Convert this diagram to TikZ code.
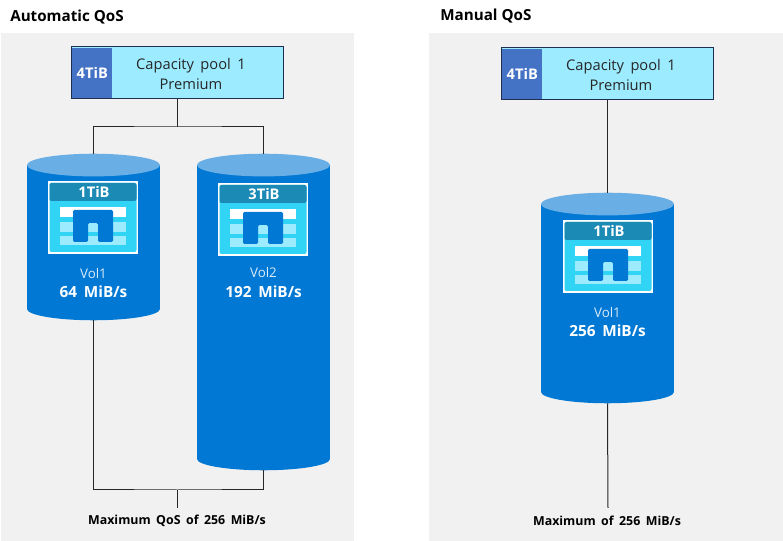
\documentclass[tikz,border=0pt]{standalone}
\usepackage{fontspec}
\setmainfont{Open Sans}
\newfontfamily\widefont[WordSpace=1.7]{Open Sans}
\definecolor{panelgray}{HTML}{F1F1F1}
\definecolor{poolcyan}{HTML}{9CEBFF}
\definecolor{pooltag}{HTML}{4472C4}
\definecolor{poolline}{HTML}{1F2F52}
\definecolor{volblue}{HTML}{0078D4}
\definecolor{voltop}{HTML}{69AEE5}
\definecolor{iconhead}{HTML}{1B8AB5}
\definecolor{iconbody}{HTML}{32D4F5}
\definecolor{iconrow}{HTML}{9CEBFF}
\tikzset{
    title/.style={font=\bfseries\fontsize{11.4}{13}\selectfont},
    poolbox/.style={draw=poolline, line width=0.75pt, fill=poolcyan, minimum width=159pt, minimum height=39pt, inner sep=0pt},
    pooltext/.style={font=\widefont\fontsize{11}{15}\selectfont, align=center, text=black!85},
    sizetag/.style={fill=pooltag, text=white, font=\bfseries\fontsize{11}{13}\selectfont, minimum width=30pt, minimum height=38pt, inner sep=0pt},
    volume/.style={minimum width=99.75pt, inner sep=0pt},
    volname/.style={text=white!85!volblue, font=\fontsize{10}{12}\selectfont},
    volrate/.style={text=white, font=\widefont\bfseries\fontsize{11.5}{13}\selectfont},
    limit/.style={font=\widefont\bfseries\fontsize{9.3}{11}\selectfont},
    link/.style={draw, line width=0.75pt, black!85}
}
\newcommand{\volshape}[1]{
    \fill[volblue] ([yshift=-8.5pt]#1.north west) rectangle ([yshift=8.5pt]#1.south east);
    \fill[volblue] ([yshift=8.5pt]#1.south) ellipse [x radius=49.875pt, y radius=8.5pt];
    \fill[voltop] ([yshift=-8.5pt]#1.north) ellipse [x radius=49.875pt, y radius=8.5pt];
}
\newcommand{\volicon}[4]{
    \begin{scope}[shift={(#2,#3)}]
        \fill[white] (0,0) rectangle (90,73);
        \fill[iconbody, rounded corners=1.5pt] (1.5,2) rectangle (88.5,71);
        \fill[iconhead, rounded corners=1.5pt] (1.5,2) rectangle (88.5,20);
        \fill[white] (12,26) rectangle (78,36);
        \fill[iconrow] (12,41) rectangle (78,51);
        \fill[iconrow] (12,55) rectangle (78,64);
        \fill[volblue, rounded corners=1pt] (25,29) -- (65,29) -- (65,61) -- (50,61) -- (50,42) -- (40,42) -- (40,61) -- (25,61) -- cycle;
        \node[text=white, font=\bfseries\fontsize{11}{13}\selectfont, inner sep=0pt] (#1) at (46,11) {#4};
    \end{scope}
}
\begin{document}
\begin{tikzpicture}[x=0.75pt, y=-0.75pt]
    \useasboundingbox (0,0) rectangle (783,541);
    \fill[panelgray] (1,33) rectangle (354,541);
    \fill[panelgray] (429,33) rectangle (783,541);

    \node[title, anchor=west, inner sep=0pt] (autotitle) at (10,17) {Automatic QoS};
    \node[title, anchor=west, inner sep=0pt] (manualtitle) at (440,16) {Manual QoS};

    \node[poolbox] (pool1) at (177,73) {};
    \node[sizetag, anchor=west] (tag1) at (72,73) {4TiB};
    \node[pooltext] (cap1) at (191,74) {Capacity pool 1\\Premium};
    \node[poolbox] (pool2) at (607.5,74) {};
    \node[sizetag, anchor=west] (tag2) at (502,74) {4TiB};
    \node[pooltext] (cap2) at (621,75) {Capacity pool 1\\Premium};

    \node[volume, minimum height=124.5pt] (vol1) at (93.5,237) {};
    \node[volume, minimum height=237pt] (vol2) at (263.5,312) {};
    \node[volume, minimum height=157.5pt] (vol3) at (607.5,298) {};
    \volshape{vol1}
    \volshape{vol2}
    \volshape{vol3}

    \volicon{size1}{48}{181}{1TiB}
    \volicon{size2}{218}{183}{3TiB}
    \volicon{size3}{563}{220}{1TiB}

    \node[volname] (name1) at (93.5,274) {Vol1};
    \node[volrate] (rate1) at (93.5,292) {64 MiB/s};
    \node[volname] (name2) at (263.5,273) {Vol2};
    \node[volrate] (rate2) at (263.5,292) {192 MiB/s};
    \node[volname] (name3) at (607.5,313) {Vol1};
    \node[volrate] (rate3) at (607.5,331) {256 MiB/s};

    \node[limit, inner sep=0pt] (limit1) at (177,521) {Maximum QoS of 256 MiB/s};
    \node[limit, inner sep=0pt] (limit2) at (607,521) {Maximum of 256 MiB/s};

    \coordinate (split1) at (177.5,127);
    \coordinate (merge1) at (177.5,490);
    \coordinate (stop1) at (177.5,508);
    \coordinate (stop2) at (608,508);

    \path[link] (pool1.south -| split1) -- (split1);
    \path[link] (vol1.north) |- (split1) -| (vol2.north);
    \path[link] (vol1.south) |- (merge1) -| (vol2.south);
    \path[link] (merge1) -- (stop1);
    \path[link] (pool2.south) -- (vol3.north);
    \path[link] (vol3.south) -- (stop2);
\end{tikzpicture}
\end{document}
